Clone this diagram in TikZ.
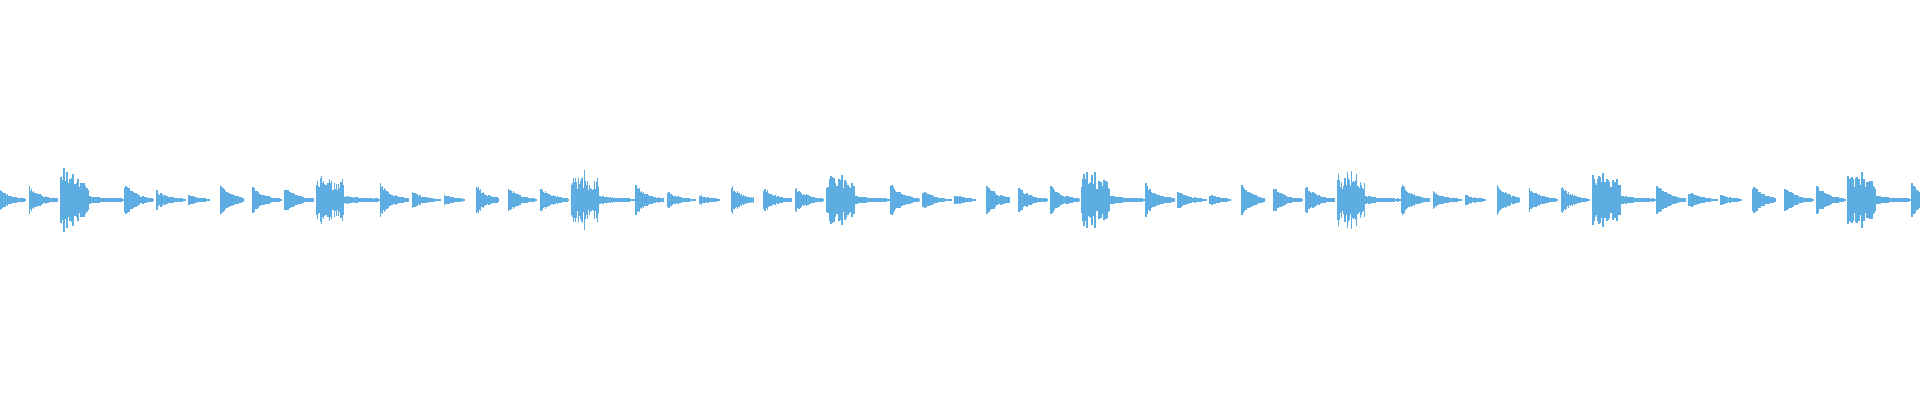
\documentclass[tikz,border=0pt]{standalone}
\usetikzlibrary{calc}
\definecolor{wavecol}{HTML}{5DACE2}

\begin{document}
\begin{tikzpicture}[
    x=1pt, y=1pt,
    wave/.style={draw=wavecol, line width=1.5pt},
    base/.style={draw=wavecol, line width=1.2pt}
]
\pgfmathsetseed{11}
\useasboundingbox (0,0) rectangle (1920,400);
\clip (0,0) rectangle (1920,400);

% one bar = big hit, three fading hits, three medium hits
\foreach \b in {-1,...,7} {
  \pgfmathsetmacro{\xo}{61+255.3*\b}
  % big hit with long tail
  \draw[base] (\xo,200) -- ++(64,0);
  \foreach \k in {0,1,...,27} {
    \pgfmathsetmacro{\a}{26*(0.45+0.55*rnd)*(1-\k/90)+(rnd>0.88)*9}
    \draw[wave] ($(\xo,200)+(\k,-\a)$) -- ++(0,2*\a);
  }
  \foreach \k in {28,29,...,62} {
    \pgfmathsetmacro{\a}{1+3.5*exp(-(\k-28)/18)*(0.6+0.4*rnd)}
    \draw[wave] ($(\xo,200)+(\k,-\a)$) -- ++(0,2*\a);
  }
  % fading and medium hits
  \foreach \s/\amp/\len in {2/17/28, 3/9/28, 4/5/20, 5/15/22, 6/13/28, 7/14/28} {
    \pgfmathsetmacro{\xs}{\xo+32*\s}
    \draw[base] (\xs,200) -- ++(\len,0);
    \foreach \k in {0,1,...,\len} {
      \pgfmathsetmacro{\a}{0.6+\amp*exp(-\k/11)*(0.65+0.35*rnd)}
      \draw[wave] ($(\xs,200)+(\k,-\a)$) -- ++(0,2*\a);
    }
  }
}
\end{tikzpicture}
\end{document}
